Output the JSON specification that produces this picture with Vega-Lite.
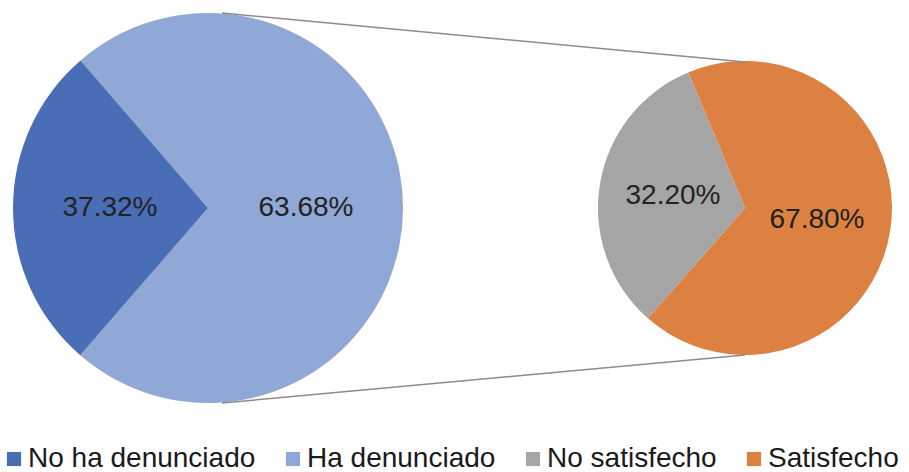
{
  "$schema": "https://vega.github.io/schema/vega-lite/v6.json",
  "width": 909,
  "height": 416,
  "padding": 0,
  "autosize": {"type": "pad"},
  "background": "white",
  "config": {"view": {"stroke": null}, "font": "Liberation Sans"},
  "datasets": {
    "total": [
      {"grafico": "Total", "categoria": "Ha denunciado", "porcentaje": 72.7, "etiqueta": "63.68%", "orden": 1},
      {"grafico": "Total", "categoria": "No ha denunciado", "porcentaje": 27.3, "etiqueta": "37.32%", "orden": 2}
    ],
    "denuncia": [
      {"grafico": "Denunciantes", "categoria": "Satisfecho", "porcentaje": 67.8, "etiqueta": "67.80%", "orden": 1},
      {"grafico": "Denunciantes", "categoria": "No satisfecho", "porcentaje": 32.2, "etiqueta": "32.20%", "orden": 2}
    ]
  },
  "layer": [
    {
      "data": {"name": "total"},
      "layer": [
        {
          "mark": {"type": "arc", "outerRadius": 195},
          "encoding": {
            "x": {"field": "grafico", "type": "nominal", "axis": null,
                  "scale": {"type": "point", "domain": ["Total", "Denunciantes"], "range": [208, 745], "padding": 0}},
            "theta": {"field": "porcentaje", "type": "quantitative", "stack": true,
                      "scale": {"domain": [0, 100], "range": [-0.7121, 5.5711]}},
            "order": {"field": "orden", "type": "quantitative"},
            "color": {"field": "categoria", "type": "nominal",
                      "scale": {"domain": ["No ha denunciado", "Ha denunciado", "No satisfecho", "Satisfecho"],
                                "range": ["#4A6EB5", "#8FA8D5", "#A5A5A5", "#DD8142"]},
                      "legend": {"title": null, "orient": "none", "legendX": 0, "legendY": 445, "direction": "horizontal",
                                 "symbolType": "square", "symbolSize": 200, "symbolStrokeWidth": 0,
                                 "labelFontSize": 28, "labelColor": "#1a1a1a", "labelFont": "Liberation Sans",
                                 "labelOffset": 0, "columnPadding": 23, "labelLimit": 400}}
          }
        },
        {
          "mark": {"type": "text", "radius": 98, "fontSize": 28, "color": "#222222", "font": "Liberation Sans"},
          "encoding": {
            "x": {"field": "grafico", "type": "nominal"},
            "theta": {"field": "porcentaje", "type": "quantitative", "stack": true},
            "order": {"field": "orden", "type": "quantitative"},
            "text": {"field": "etiqueta"}
          }
        }
      ]
    },
    {
      "data": {"name": "denuncia"},
      "layer": [
        {
          "mark": {"type": "arc", "outerRadius": 147},
          "encoding": {
            "x": {"field": "grafico", "type": "nominal"},
            "theta": {"field": "porcentaje", "type": "quantitative", "stack": true,
                      "scale": {"domain": [0, 100], "range": [-0.3962, 5.887]}},
            "order": {"field": "orden", "type": "quantitative"},
            "color": {"field": "categoria", "type": "nominal"}
          }
        },
        {
          "mark": {"type": "text", "radius": 73, "fontSize": 28, "color": "#222222", "font": "Liberation Sans"},
          "encoding": {
            "x": {"field": "grafico", "type": "nominal"},
            "theta": {"field": "porcentaje", "type": "quantitative", "stack": true},
            "order": {"field": "orden", "type": "quantitative"},
            "text": {"field": "etiqueta"}
          }
        }
      ]
    },
    {
      "data": {"values": [{"desde": "Total", "hasta": "Denunciantes"}]},
      "mark": {"type": "rule", "color": "#8C8C8C", "strokeWidth": 1.5, "xOffset": 14, "x2Offset": 0},
      "encoding": {
        "x": {"field": "desde", "type": "nominal"},
        "x2": {"field": "hasta"},
        "y": {"value": 13},
        "y2": {"value": 62}
      }
    },
    {
      "data": {"values": [{"desde": "Total", "hasta": "Denunciantes"}]},
      "mark": {"type": "rule", "color": "#8C8C8C", "strokeWidth": 1.5, "xOffset": 14, "x2Offset": 0},
      "encoding": {
        "x": {"field": "desde", "type": "nominal"},
        "x2": {"field": "hasta"},
        "y": {"value": 403},
        "y2": {"value": 355}
      }
    }
  ],
  "resolve": {"scale": {"theta": "independent"}}
}
